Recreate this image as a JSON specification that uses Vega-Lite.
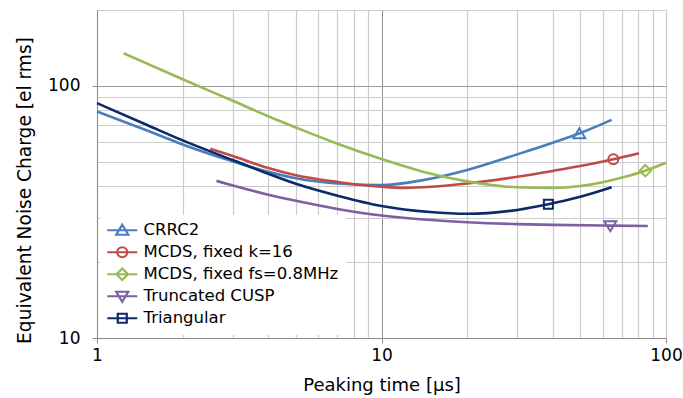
{
  "$schema": "https://vega.github.io/schema/vega-lite/v6.json",
  "width": 569,
  "height": 328,
  "autosize": {"type": "none"},
  "padding": {"left": 97, "top": 10, "right": 17, "bottom": 60},
  "background": "white",
  "config": {
    "font": "DejaVu Sans",
    "view": {"stroke": "#b4b4b4", "strokeWidth": 1}
  },
  "datasets": {
    "curves": [
      {"series": "CRRC2", "t": 1, "enc": 79.1},
      {"series": "CRRC2", "t": 1.5, "enc": 66.5},
      {"series": "CRRC2", "t": 2, "enc": 58.6},
      {"series": "CRRC2", "t": 3, "enc": 50.2},
      {"series": "CRRC2", "t": 4, "enc": 45.6},
      {"series": "CRRC2", "t": 5, "enc": 43.0},
      {"series": "CRRC2", "t": 7, "enc": 41.0},
      {"series": "CRRC2", "t": 10, "enc": 40.4},
      {"series": "CRRC2", "t": 14, "enc": 42.3},
      {"series": "CRRC2", "t": 20, "enc": 46.4},
      {"series": "CRRC2", "t": 30, "enc": 53.5},
      {"series": "CRRC2", "t": 40, "enc": 59.5},
      {"series": "CRRC2", "t": 50, "enc": 65.0},
      {"series": "CRRC2", "t": 64.4, "enc": 73.3},
      {"series": "MCDS, fixed k=16", "t": 2.5, "enc": 56.3},
      {"series": "MCDS, fixed k=16", "t": 3, "enc": 52.7},
      {"series": "MCDS, fixed k=16", "t": 4, "enc": 47.2},
      {"series": "MCDS, fixed k=16", "t": 5, "enc": 44.2},
      {"series": "MCDS, fixed k=16", "t": 7, "enc": 41.6},
      {"series": "MCDS, fixed k=16", "t": 10, "enc": 39.8},
      {"series": "MCDS, fixed k=16", "t": 12, "enc": 39.4},
      {"series": "MCDS, fixed k=16", "t": 15, "enc": 39.8},
      {"series": "MCDS, fixed k=16", "t": 20, "enc": 41.0},
      {"series": "MCDS, fixed k=16", "t": 30, "enc": 43.6},
      {"series": "MCDS, fixed k=16", "t": 40, "enc": 46.0},
      {"series": "MCDS, fixed k=16", "t": 50, "enc": 48.1},
      {"series": "MCDS, fixed k=16", "t": 65.3, "enc": 51.2},
      {"series": "MCDS, fixed k=16", "t": 80.4, "enc": 54.1},
      {"series": "MCDS, fixed fs=0.8MHz", "t": 1.24, "enc": 134.8},
      {"series": "MCDS, fixed fs=0.8MHz", "t": 1.5, "enc": 122.6},
      {"series": "MCDS, fixed fs=0.8MHz", "t": 2, "enc": 106.2},
      {"series": "MCDS, fixed fs=0.8MHz", "t": 3, "enc": 87.3},
      {"series": "MCDS, fixed fs=0.8MHz", "t": 4.28, "enc": 73.4},
      {"series": "MCDS, fixed fs=0.8MHz", "t": 5, "enc": 68.4},
      {"series": "MCDS, fixed fs=0.8MHz", "t": 7, "enc": 59.0},
      {"series": "MCDS, fixed fs=0.8MHz", "t": 10, "enc": 51.3},
      {"series": "MCDS, fixed fs=0.8MHz", "t": 14.8, "enc": 44.9},
      {"series": "MCDS, fixed fs=0.8MHz", "t": 20, "enc": 41.8},
      {"series": "MCDS, fixed fs=0.8MHz", "t": 30, "enc": 39.6},
      {"series": "MCDS, fixed fs=0.8MHz", "t": 40, "enc": 39.4},
      {"series": "MCDS, fixed fs=0.8MHz", "t": 50, "enc": 40.1},
      {"series": "MCDS, fixed fs=0.8MHz", "t": 60, "enc": 41.5},
      {"series": "MCDS, fixed fs=0.8MHz", "t": 70, "enc": 43.3},
      {"series": "MCDS, fixed fs=0.8MHz", "t": 84.6, "enc": 46.1},
      {"series": "MCDS, fixed fs=0.8MHz", "t": 100, "enc": 49.6},
      {"series": "Truncated CUSP", "t": 2.63, "enc": 42.0},
      {"series": "Truncated CUSP", "t": 3, "enc": 40.3},
      {"series": "Truncated CUSP", "t": 4, "enc": 37.0},
      {"series": "Truncated CUSP", "t": 5, "enc": 35.0},
      {"series": "Truncated CUSP", "t": 7, "enc": 32.5},
      {"series": "Truncated CUSP", "t": 10, "enc": 30.6},
      {"series": "Truncated CUSP", "t": 14, "enc": 29.5},
      {"series": "Truncated CUSP", "t": 20, "enc": 28.8},
      {"series": "Truncated CUSP", "t": 30, "enc": 28.3},
      {"series": "Truncated CUSP", "t": 40, "enc": 28.1},
      {"series": "Truncated CUSP", "t": 63.7, "enc": 27.9},
      {"series": "Truncated CUSP", "t": 86.3, "enc": 27.8},
      {"series": "Triangular", "t": 1, "enc": 85.4},
      {"series": "Triangular", "t": 1.5, "enc": 70.0},
      {"series": "Triangular", "t": 2, "enc": 60.8},
      {"series": "Triangular", "t": 3, "enc": 50.8},
      {"series": "Triangular", "t": 4, "enc": 44.8},
      {"series": "Triangular", "t": 5, "enc": 40.9},
      {"series": "Triangular", "t": 7, "enc": 36.7},
      {"series": "Triangular", "t": 10, "enc": 33.4},
      {"series": "Triangular", "t": 14.8, "enc": 31.6},
      {"series": "Triangular", "t": 20, "enc": 31.1},
      {"series": "Triangular", "t": 30, "enc": 32.2},
      {"series": "Triangular", "t": 38.6, "enc": 33.9},
      {"series": "Triangular", "t": 50, "enc": 36.3},
      {"series": "Triangular", "t": 64.4, "enc": 39.6}
    ],
    "markers": [
      {"series": "CRRC2", "t": 49.6, "enc": 64.6},
      {"series": "MCDS, fixed k=16", "t": 65.3, "enc": 51.2},
      {"series": "MCDS, fixed fs=0.8MHz", "t": 84.6, "enc": 46.1},
      {"series": "Truncated CUSP", "t": 63.7, "enc": 27.9},
      {"series": "Triangular", "t": 38.6, "enc": 33.9}
    ]
  },
  "encoding": {
    "x": {
      "field": "t",
      "type": "quantitative",
      "scale": {"type": "log", "domain": [1, 100], "nice": false},
      "axis": {
        "values": [1, 2, 3, 4, 5, 6, 7, 8, 9, 10, 20, 30, 40, 50, 60, 70, 80, 90, 100],
        "labelExpr": "indexof([1, 10, 100], datum.value) >= 0 ? '' + datum.value : ''",
        "labelOverlap": false,
        "labelFlush": false,
        "labelFontSize": 17,
        "labelColor": "black",
        "labelPadding": 4,
        "grid": true,
        "gridColor": {"condition": {"test": "datum.value == 10", "value": "#8c8c8c"}, "value": "#cccccc"},
        "gridWidth": {"condition": {"test": "datum.value == 10", "value": 1}, "value": 1.2},
        "domainColor": "#8c8c8c",
        "tickColor": "#8c8c8c",
        "tickSize": {"condition": {"test": "indexof([1, 10, 100], datum.value) >= 0", "value": 5}, "value": 0},
        "title": "Peaking time [μs]",
        "titleFontSize": 18,
        "titleFontWeight": "normal",
        "titleColor": "black",
        "titleY": 47,
        "titleBaseline": "middle"
      }
    },
    "y": {
      "field": "enc",
      "type": "quantitative",
      "scale": {"type": "log", "domain": [10, 200], "nice": false},
      "axis": {
        "values": [10, 20, 30, 40, 50, 60, 70, 80, 90, 100, 200],
        "labelExpr": "indexof([10, 100], datum.value) >= 0 ? '' + datum.value : ''",
        "labelOverlap": false,
        "labelFlush": false,
        "labelFontSize": 17,
        "labelColor": "black",
        "labelPadding": 12,
        "grid": true,
        "gridColor": {"condition": {"test": "datum.value == 100", "value": "#9a9a9a"}, "value": "#cccccc"},
        "gridWidth": {"condition": {"test": "datum.value == 100", "value": 1}, "value": 1.2},
        "domainColor": "#8c8c8c",
        "tickColor": "#8c8c8c",
        "tickSize": {"condition": {"test": "indexof([10, 100], datum.value) >= 0", "value": 5}, "value": 0},
        "title": "Equivalent Noise Charge [el rms]",
        "titleFontSize": 18.6,
        "titleFontWeight": "normal",
        "titleColor": "black",
        "titleX": -73,
        "titleY": 180,
        "titleBaseline": "middle"
      }
    },
    "color": {
      "field": "series",
      "type": "nominal",
      "scale": {
        "domain": ["CRRC2", "MCDS, fixed k=16", "MCDS, fixed fs=0.8MHz", "Truncated CUSP", "Triangular"],
        "range": ["#4A7EBB", "#BE4B48", "#98B954", "#7D60A0", "#0B2A66"]
      },
      "legend": null
    }
  },
  "layer": [
    {
      "data": {"name": "curves"},
      "mark": {"type": "line", "interpolate": "monotone", "strokeWidth": 2.6},
      "encoding": {
        "color": {
          "field": "series",
          "type": "nominal",
          "legend": {
            "orient": "none",
            "legendX": 3,
            "legendY": 205,
            "title": null,
            "fillColor": "white",
            "padding": 7,
            "symbolSize": 100,
            "symbolStrokeWidth": 2.2,
            "symbolOffset": 7,
            "labelOffset": 13,
            "labelFontSize": 16.5,
            "labelColor": "black",
            "labelLimit": 400,
            "rowPadding": 2,
            "encode": {
              "symbols": {
                "update": {
                  "shape": {"signal": "datum.value === 'CRRC2' ? 'M-3,0H3M0,-1.1L1.2,0.9L-1.2,0.9Z' : datum.value === 'MCDS, fixed k=16' ? 'M-3,0H3M1,0A1,1 0 1,1 -1,0A1,1 0 1,1 1,0Z' : datum.value === 'MCDS, fixed fs=0.8MHz' ? 'M-3,0H3M0,-1.15L1.15,0L0,1.15L-1.15,0Z' : datum.value === 'Truncated CUSP' ? 'M-3,0H3M0,1.1L1.2,-0.9L-1.2,-0.9Z' : 'M-3,0H3M-0.9,-0.9H0.9V0.9H-0.9Z'"},
                  "fill": {"value": "transparent"}
                }
              }
            }
          }
        }
      }
    },
    {
      "data": {"name": "markers"},
      "transform": [{"filter": "datum.series === 'CRRC2'"}],
      "mark": {"type": "point", "shape": "M0,-1.1L1.2,0.9L-1.2,0.9Z", "filled": false, "strokeWidth": 2, "size": 100, "opacity": 1}
    },
    {
      "data": {"name": "markers"},
      "transform": [{"filter": "datum.series === 'MCDS, fixed k=16'"}],
      "mark": {"type": "point", "shape": "M1,0A1,1 0 1,1 -1,0A1,1 0 1,1 1,0Z", "filled": false, "strokeWidth": 2, "size": 100, "opacity": 1}
    },
    {
      "data": {"name": "markers"},
      "transform": [{"filter": "datum.series === 'MCDS, fixed fs=0.8MHz'"}],
      "mark": {"type": "point", "shape": "M0,-1.15L1.15,0L0,1.15L-1.15,0Z", "filled": false, "strokeWidth": 2, "size": 100, "opacity": 1}
    },
    {
      "data": {"name": "markers"},
      "transform": [{"filter": "datum.series === 'Truncated CUSP'"}],
      "mark": {"type": "point", "shape": "M0,1.1L1.2,-0.9L-1.2,-0.9Z", "filled": false, "strokeWidth": 2, "size": 100, "opacity": 1}
    },
    {
      "data": {"name": "markers"},
      "transform": [{"filter": "datum.series === 'Triangular'"}],
      "mark": {"type": "point", "shape": "M-0.9,-0.9H0.9V0.9H-0.9Z", "filled": false, "strokeWidth": 2, "size": 100, "opacity": 1}
    }
  ]
}
